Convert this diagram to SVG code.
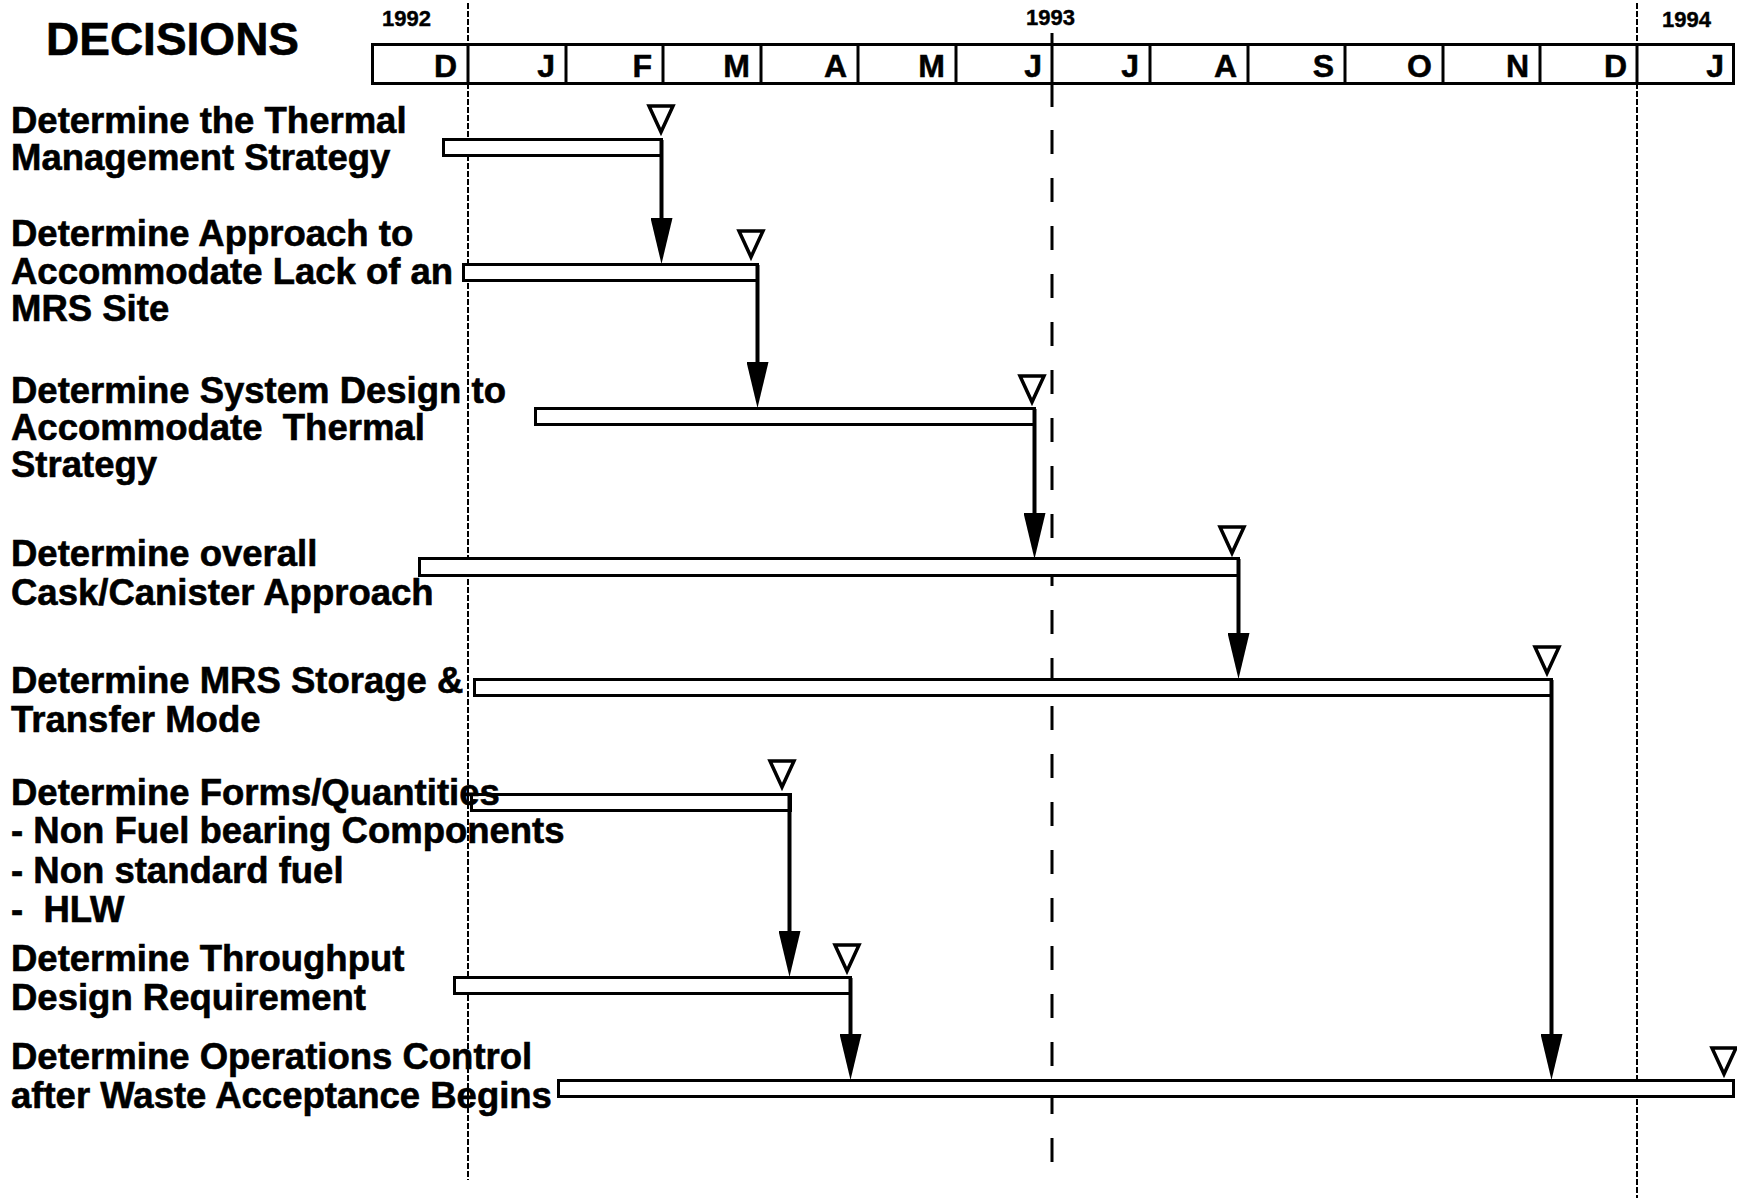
<svg xmlns="http://www.w3.org/2000/svg" width="1737" height="1198" viewBox="0 0 1737 1198">
<defs>
<style>
text{font-family:"Liberation Sans",Arial,Helvetica,sans-serif;font-weight:bold;fill:#000}
.lbl{font-size:36.5px;white-space:pre;stroke:#000;stroke-width:0.6px}
.mon{font-size:32px;text-anchor:end;stroke:#000;stroke-width:0.5px}
.yr{font-size:22px;stroke:#000;stroke-width:0.4px}
.bar{fill:#fff;stroke:#000;stroke-width:3}
.ms{fill:#fff;stroke:#000;stroke-width:3.5;stroke-linejoin:miter}
.arw{stroke:#000;stroke-width:4;fill:none;marker-end:url(#ah)}
.thin{stroke:#000;stroke-width:2;stroke-dasharray:6 2;fill:none}
.dash{stroke:#000;stroke-width:3;stroke-dasharray:24 24;fill:none}
.div{stroke:#000;stroke-width:3}
</style>
<marker id="ah" markerUnits="userSpaceOnUse" markerWidth="46" markerHeight="22" viewBox="0 -11 46 22" refX="34" refY="0" orient="auto"><path d="M0,-11 L46,0 L0,11 Z" fill="#000"/></marker>
<path id="tri" d="M-12,-26 H12 L0,0 Z"/>
</defs>
<rect width="1737" height="1198" fill="#fff"/>

<g id="title"><text x="46" y="55" style="font-size:46px;stroke:#000;stroke-width:0.6px">DECISIONS</text></g>

<g id="timeline-lines">
<line class="thin" x1="468" y1="3" x2="468" y2="1180"/>
<line class="thin" x1="1637" y1="3" x2="1637" y2="1198"/>
<line x1="1052" y1="33" x2="1052" y2="107" stroke="#000" stroke-width="3"/>
<line class="dash" x1="1052" y1="130" x2="1052" y2="1166"/>
</g>

<g id="header">
<rect x="372.5" y="44.5" width="1361" height="39" fill="#fff" stroke="#000" stroke-width="3"/>
<line class="div" x1="468" y1="44" x2="468" y2="85"/>
<line class="div" x1="566" y1="44" x2="566" y2="85"/>
<line class="div" x1="663" y1="44" x2="663" y2="85"/>
<line class="div" x1="761" y1="44" x2="761" y2="85"/>
<line class="div" x1="858" y1="44" x2="858" y2="85"/>
<line class="div" x1="956" y1="44" x2="956" y2="85"/>
<line class="div" x1="1052" y1="44" x2="1052" y2="85"/>
<line class="div" x1="1150" y1="44" x2="1150" y2="85"/>
<line class="div" x1="1248" y1="44" x2="1248" y2="85"/>
<line class="div" x1="1345" y1="44" x2="1345" y2="85"/>
<line class="div" x1="1443" y1="44" x2="1443" y2="85"/>
<line class="div" x1="1540" y1="44" x2="1540" y2="85"/>
<line class="div" x1="1637" y1="44" x2="1637" y2="85"/>
<text class="yr" x="382" y="26">1992</text>
<text class="yr" x="1026" y="25">1993</text>
<text class="yr" x="1662" y="27">1994</text>
<text class="mon" x="457" y="77">D</text>
<text class="mon" x="555" y="77">J</text>
<text class="mon" x="652" y="77">F</text>
<text class="mon" x="750" y="77">M</text>
<text class="mon" x="847" y="77">A</text>
<text class="mon" x="945" y="77">M</text>
<text class="mon" x="1042" y="77">J</text>
<text class="mon" x="1139" y="77">J</text>
<text class="mon" x="1237" y="77">A</text>
<text class="mon" x="1334" y="77">S</text>
<text class="mon" x="1432" y="77">O</text>
<text class="mon" x="1529" y="77">N</text>
<text class="mon" x="1627" y="77">D</text>
<text class="mon" x="1724" y="77">J</text>
</g>

<g id="n1">
<rect class="bar" x="443.5" y="139.5" width="218" height="16"/>
<use href="#tri" class="ms" x="661" y="132"/>
<text class="lbl" x="11" y="133">Determine the Thermal</text>
<text class="lbl" x="11" y="170">Management Strategy</text>
</g>

<g id="n2">
<rect class="bar" x="463.5" y="264.5" width="294" height="16"/>
<use href="#tri" class="ms" x="751" y="257"/>
<text class="lbl" x="11" y="246">Determine Approach to</text>
<text class="lbl" x="11" y="284">Accommodate Lack of an</text>
<text class="lbl" x="11" y="321">MRS Site</text>
</g>

<g id="n3">
<rect class="bar" x="535.5" y="408.5" width="499" height="16"/>
<use href="#tri" class="ms" x="1032" y="402"/>
<text class="lbl" x="11" y="403">Determine System Design to</text>
<text class="lbl" x="11" y="440">Accommodate  Thermal</text>
<text class="lbl" x="11" y="477">Strategy</text>
</g>

<g id="n4">
<rect class="bar" x="419.5" y="558.5" width="819" height="17"/>
<use href="#tri" class="ms" x="1232" y="553"/>
<text class="lbl" x="11" y="566">Determine overall</text>
<text class="lbl" x="11" y="605">Cask/Canister Approach</text>
</g>

<g id="n5">
<rect class="bar" x="474.5" y="679.5" width="1077" height="16"/>
<use href="#tri" class="ms" x="1547" y="673"/>
<text class="lbl" x="11" y="693">Determine MRS Storage &amp;</text>
<text class="lbl" x="11" y="732">Transfer Mode</text>
</g>

<g id="n6">
<rect class="bar" x="471.5" y="794.5" width="319" height="16"/>
<use href="#tri" class="ms" x="782" y="787"/>
<text class="lbl" x="11" y="805">Determine Forms/Quantities</text>
<text class="lbl" x="11" y="843">- Non Fuel bearing Components</text>
<text class="lbl" x="11" y="883">- Non standard fuel</text>
<text class="lbl" x="11" y="922">-  HLW</text>
</g>

<g id="n7">
<rect class="bar" x="454.5" y="977.5" width="396" height="16"/>
<use href="#tri" class="ms" x="847" y="971"/>
<text class="lbl" x="11" y="971">Determine Throughput</text>
<text class="lbl" x="11" y="1010">Design Requirement</text>
</g>

<g id="n8">
<rect class="bar" x="558.5" y="1080.5" width="1175" height="16"/>
<use href="#tri" class="ms" x="1724" y="1074"/>
<text class="lbl" x="11" y="1069">Determine Operations Control</text>
<text class="lbl" x="11" y="1108">after Waste Acceptance Begins</text>
</g>

<g id="connectors">
<line class="arw" x1="661.5" y1="140" x2="661.5" y2="252"/>
<line class="arw" x1="757.5" y1="265" x2="757.5" y2="396"/>
<line class="arw" x1="1034.5" y1="409" x2="1034.5" y2="547"/>
<line class="arw" x1="1238.5" y1="559" x2="1238.5" y2="667"/>
<line class="arw" x1="1551.5" y1="680" x2="1551.5" y2="1068"/>
<line class="arw" x1="789.5" y1="795" x2="789.5" y2="965"/>
<line class="arw" x1="850.5" y1="978" x2="850.5" y2="1068"/>
</g>
</svg>
